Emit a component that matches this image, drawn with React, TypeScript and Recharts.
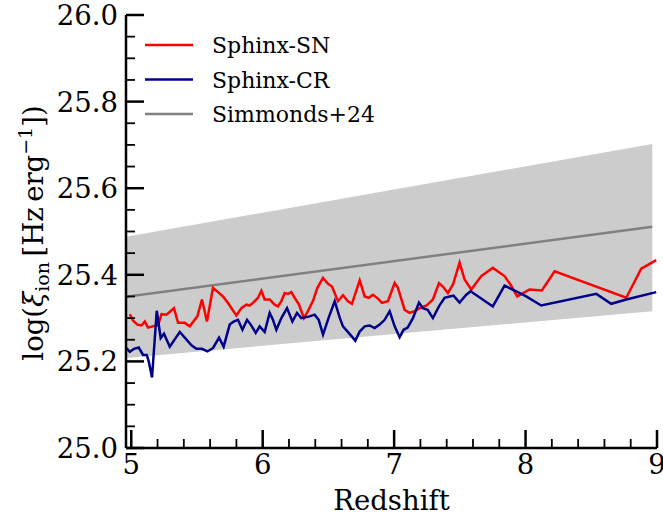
import React from 'react';
import { ComposedChart, Line, Area, XAxis, YAxis, Legend } from 'recharts';

// Sphinx-SN (red)
const snZ = [4.989, 5.014, 5.047, 5.078, 5.103, 5.128, 5.166, 5.204, 5.230, 5.268, 5.325, 5.356, 5.407, 5.445, 5.503, 5.538, 5.576, 5.622, 5.660, 5.698, 5.736, 5.800, 5.838, 5.876, 5.901, 5.926, 5.964, 5.990, 6.015, 6.053, 6.091, 6.116, 6.142, 6.167, 6.192, 6.218, 6.243, 6.275, 6.314, 6.344, 6.383, 6.416, 6.459, 6.497, 6.527, 6.573, 6.611, 6.649, 6.679, 6.738, 6.776, 6.806, 6.839, 6.877, 6.907, 6.953, 7.004, 7.029, 7.080, 7.118, 7.156, 7.194, 7.247, 7.295, 7.341, 7.371, 7.409, 7.447, 7.498, 7.536, 7.587, 7.663, 7.751, 7.840, 7.886, 7.937, 8.030, 8.124, 8.221, 8.766, 8.880, 8.994];
const snV = [25.309, 25.294, 25.285, 25.283, 25.292, 25.278, 25.281, 25.283, 25.309, 25.308, 25.323, 25.289, 25.289, 25.281, 25.304, 25.343, 25.292, 25.370, 25.360, 25.350, 25.335, 25.306, 25.323, 25.331, 25.329, 25.335, 25.347, 25.363, 25.343, 25.343, 25.331, 25.327, 25.339, 25.358, 25.356, 25.360, 25.347, 25.332, 25.300, 25.316, 25.340, 25.370, 25.393, 25.379, 25.373, 25.339, 25.353, 25.339, 25.333, 25.387, 25.350, 25.347, 25.354, 25.345, 25.335, 25.339, 25.381, 25.370, 25.319, 25.312, 25.316, 25.323, 25.329, 25.343, 25.381, 25.373, 25.358, 25.377, 25.428, 25.389, 25.366, 25.397, 25.416, 25.397, 25.377, 25.350, 25.366, 25.364, 25.408, 25.347, 25.414, 25.434];

// Sphinx-CR (dark blue)
const crZ = [4.963, 4.989, 5.021, 5.057, 5.090, 5.118, 5.133, 5.158, 5.194, 5.224, 5.249, 5.293, 5.369, 5.407, 5.458, 5.496, 5.538, 5.579, 5.622, 5.668, 5.703, 5.749, 5.779, 5.812, 5.846, 5.881, 5.909, 5.947, 5.977, 6.015, 6.053, 6.078, 6.104, 6.142, 6.185, 6.226, 6.261, 6.294, 6.357, 6.395, 6.426, 6.459, 6.502, 6.548, 6.586, 6.611, 6.654, 6.705, 6.738, 6.776, 6.814, 6.852, 6.890, 6.928, 6.966, 7.004, 7.042, 7.072, 7.103, 7.143, 7.189, 7.219, 7.255, 7.295, 7.341, 7.384, 7.422, 7.452, 7.498, 7.549, 7.582, 7.751, 7.840, 7.929, 8.005, 8.119, 8.538, 8.652, 8.766, 8.994];
const crV = [25.231, 25.222, 25.229, 25.232, 25.215, 25.215, 25.200, 25.163, 25.317, 25.254, 25.264, 25.234, 25.268, 25.255, 25.237, 25.229, 25.229, 25.223, 25.231, 25.255, 25.234, 25.285, 25.292, 25.296, 25.273, 25.296, 25.285, 25.266, 25.281, 25.268, 25.312, 25.296, 25.273, 25.300, 25.323, 25.292, 25.312, 25.300, 25.304, 25.308, 25.296, 25.262, 25.301, 25.339, 25.301, 25.281, 25.266, 25.248, 25.269, 25.281, 25.283, 25.277, 25.285, 25.296, 25.316, 25.281, 25.256, 25.273, 25.278, 25.300, 25.336, 25.323, 25.319, 25.300, 25.327, 25.347, 25.350, 25.352, 25.336, 25.354, 25.362, 25.327, 25.375, 25.362, 25.350, 25.329, 25.356, 25.333, 25.343, 25.360];

// Simmonds+24 relation and its scatter band
const simZ = [4.96, 8.964];
const simMed = [25.349, 25.511];
const simLow = [25.208, 25.316];
const simHigh = [25.488, 25.702];

const xTicks = [5, 5.2, 5.4, 5.6, 5.8, 6, 6.2, 6.4, 6.6, 6.8, 7, 7.2, 7.4, 7.6, 7.8, 8, 8.2, 8.4, 8.6, 8.8, 9];
const yTicks = [25, 25.05, 25.1, 25.15, 25.2, 25.25, 25.3, 25.35, 25.4, 25.45, 25.5, 25.55, 25.6, 25.65, 25.7, 25.75, 25.8, 25.85, 25.9, 25.95, 26];

const FONT = 'DejaVu Serif';
const TICK_FS = 27.5;

function buildRows() {
  const map = new Map<number, any>();
  const put = (z: number, key: string, v: any) => {
    if (!map.has(z)) map.set(z, { z });
    map.get(z)[key] = v;
  };
  snZ.forEach((z, i) => put(z, 'sn', snV[i]));
  crZ.forEach((z, i) => put(z, 'cr', crV[i]));
  simZ.forEach((z, i) => {
    put(z, 'med', simMed[i]);
    put(z, 'band', [simLow[i], simHigh[i]]);
  });
  return Array.from(map.values()).sort((a, b) => a.z - b.z);
}
const rows = buildRows();

const isMajorX = (v: number) => Math.abs(v - Math.round(v)) < 1e-6;
const isMajorY = (v: number) => Math.abs(v * 5 - Math.round(v * 5)) < 1e-6;

const BottomTick = (p: any) => {
  const { x, y, payload } = p;
  const major = isMajorX(payload.value);
  return (
    <g>
      <line x1={x} x2={x} y1={y} y2={y - (major ? 18 : 9)} stroke="#000" strokeWidth={major ? 2.5 : 1.8} />
      {major && (
        <text x={x} y={y + 26} textAnchor="middle" fontFamily={FONT} fontSize={TICK_FS} fill="#000">
          {Math.round(payload.value)}
        </text>
      )}
    </g>
  );
};
const TopTick = (p: any) => {
  const { x, y, payload } = p;
  const major = isMajorX(payload.value);
  return <line x1={x} x2={x} y1={y} y2={y + (major ? 18 : 9)} stroke="#000" strokeWidth={major ? 2.5 : 1.8} />;
};
const LeftTick = (p: any) => {
  const { x, y, payload } = p;
  const major = isMajorY(payload.value);
  return (
    <g>
      <line x1={x} x2={x + (major ? 18 : 9)} y1={y} y2={y} stroke="#000" strokeWidth={major ? 2.5 : 1.8} />
      {major && (
        <text x={x - 8} y={y + 10} textAnchor="end" fontFamily={FONT} fontSize={TICK_FS} fill="#000">
          {Number(payload.value).toFixed(1)}
        </text>
      )}
    </g>
  );
};
const RightTick = (p: any) => {
  const { x, y, payload } = p;
  const major = isMajorY(payload.value);
  return <line x1={x} x2={x - (major ? 18 : 9)} y1={y} y2={y} stroke="#000" strokeWidth={major ? 2.5 : 1.8} />;
};

const XTitle = (p: any) => {
  const vb = p.viewBox || { x: 126, width: 531 };
  return (
    <text x={vb.x + vb.width / 2} y={510} textAnchor="middle" fontFamily={FONT} fontSize={TICK_FS} fill="#000">
      Redshift
    </text>
  );
};

const YTitle = () => {
  const cx = 43;
  const cy = 233;
  return (
    <text transform={`rotate(-90 ${cx} ${cy})`} x={cx} y={cy} textAnchor="middle" fontFamily={FONT} fontSize={TICK_FS} fill="#000">
      <tspan>log(</tspan>
      <tspan fontStyle="italic">ξ</tspan>
      <tspan dy={6} fontSize={19}>ion</tspan>
      <tspan dy={-6}>{'\u2009[Hz\u2009erg'}</tspan>
      <tspan dy={-11} fontSize={19}>−1</tspan>
      <tspan dy={11}>])</tspan>
    </text>
  );
};

const legendItems = [
  { label: 'Sphinx-SN', color: '#ff0000' },
  { label: 'Sphinx-CR', color: '#00008b' },
  { label: 'Simmonds+24', color: '#808080' },
];

const LegendBox = () => (
  <svg width={260} height={110} style={{ display: 'block' }}>
    {legendItems.map((it, i) => {
      const y = 20 + i * 34.5;
      return (
        <g key={it.label}>
          <line x1={5} x2={53} y1={y} y2={y} stroke={it.color} strokeWidth={2.5} />
          <text x={72} y={y + 8} fontFamily={FONT} fontSize={22} fill="#000">
            {it.label}
          </text>
        </g>
      );
    })}
  </svg>
);

export default function App() {
  return (
    <div style={{ position: 'absolute', left: 0, top: 0, width: 663, height: 520, background: '#fff' }}>
      <ComposedChart width={663} height={520} data={rows} margin={{ top: 15, right: 6, bottom: 0, left: 0 }}>
        <XAxis
          xAxisId="b"
          dataKey="z"
          type="number"
          domain={[4.96, 9]}
          allowDataOverflow
          ticks={xTicks}
          interval={0}
          tickSize={0}
          tickMargin={0}
          height={72}
          axisLine={{ stroke: '#000', strokeWidth: 2.5 }}
          tickLine={false}
          tick={<BottomTick />}
          label={<XTitle />}
        />
        <XAxis
          xAxisId="t"
          orientation="top"
          dataKey="z"
          type="number"
          domain={[4.96, 9]}
          allowDataOverflow
          ticks={xTicks}
          interval={0}
          tickSize={0}
          tickMargin={0}
          height={0}
          axisLine={{ stroke: '#000', strokeWidth: 2.5 }}
          tickLine={false}
          tick={<TopTick />}
        />
        <YAxis
          yAxisId="l"
          type="number"
          domain={[25, 26]}
          allowDataOverflow
          ticks={yTicks}
          interval={0}
          tickSize={0}
          tickMargin={0}
          width={126}
          axisLine={{ stroke: '#000', strokeWidth: 2.5 }}
          tickLine={false}
          tick={<LeftTick />}
          label={<YTitle />}
        />
        <YAxis
          yAxisId="r"
          orientation="right"
          type="number"
          domain={[25, 26]}
          allowDataOverflow
          ticks={yTicks}
          interval={0}
          tickSize={0}
          tickMargin={0}
          width={0}
          axisLine={{ stroke: '#000', strokeWidth: 2.5 }}
          tickLine={false}
          tick={<RightTick />}
        />
        <Area xAxisId="b" yAxisId="l" dataKey="band" type="linear" fill="#cccccc" fillOpacity={1} stroke="none" connectNulls isAnimationActive={false} />
        <Line xAxisId="b" yAxisId="l" dataKey="med" type="linear" stroke="#808080" strokeWidth={2.5} dot={false} connectNulls isAnimationActive={false} />
        <Line xAxisId="b" yAxisId="l" dataKey="sn" type="linear" stroke="#ff0000" strokeWidth={2.5} dot={false} connectNulls isAnimationActive={false} />
        <Line xAxisId="b" yAxisId="l" dataKey="cr" type="linear" stroke="#00008b" strokeWidth={2.5} dot={false} connectNulls isAnimationActive={false} />
        <Legend
          layout="vertical"
          align="center"
          verticalAlign="middle"
          wrapperStyle={{ left: 140, top: 25, width: 260, height: 110 }}
          content={() => <LegendBox />}
        />
      </ComposedChart>
    </div>
  );
}
